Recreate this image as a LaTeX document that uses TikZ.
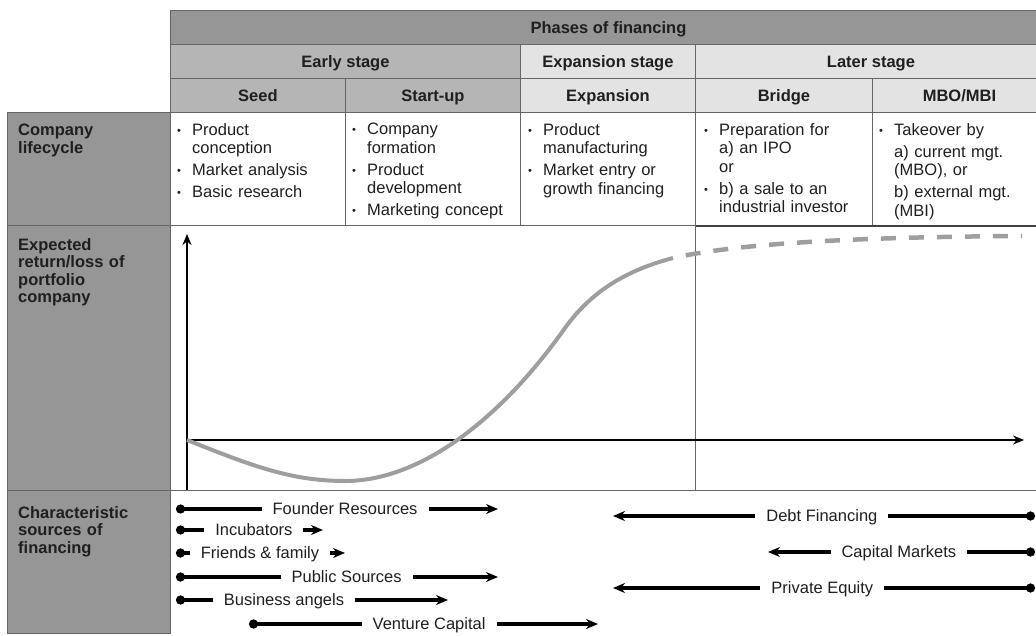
\documentclass[tikz,border=0pt]{standalone}
\usepackage{fontspec}
\setmainfont{Liberation Sans}
\usetikzlibrary{arrows.meta}

\definecolor{dunkel}{gray}{0.59}
\definecolor{mittel}{gray}{0.71}
\definecolor{hell}{gray}{0.89}
\definecolor{rahmen}{gray}{0.40}
\definecolor{kurve}{gray}{0.62}
\definecolor{schrift}{gray}{0.12}

\tikzset{
  zelle/.style={draw=rahmen, line width=0.9pt, anchor=north west, inner sep=0pt,
    minimum height=34pt, text height=11.8pt, text depth=0pt, text=schrift,
    font=\bfseries\fontsize{16.5}{19}\selectfont},
  gitter/.style={draw=rahmen, line width=0.9pt},
  liste/.style={anchor=north west, inner sep=0pt, align=left, text width=165pt,
    text=schrift, font=\fontsize{16.5}{18.5}\selectfont,
    execute at begin node={\setlength{\parskip}{3.5pt}}},
  links/.style={anchor=north west, inner sep=0pt, align=left, text width=148pt,
    text=schrift, font=\bfseries\fontsize{16.5}{17.5}\selectfont},
  achse/.style={line width=2.6pt, -{Stealth[length=11pt,width=9pt]}},
  quelle/.style={line width=3.4pt, {Circle[length=9pt]}-{Stealth[length=12pt,width=10pt]}},
  etikett/.style={fill=white, inner xsep=11pt, inner ysep=1pt, text height=11.8pt,
    text depth=0pt, text=schrift, font=\fontsize{16.5}{18}\selectfont},
}

% Aufzaehlungspunkt mit haengendem Einzug
\newcommand{\pkt}[1]{\hangindent=15pt\hangafter=1\noindent
  \makebox[15pt][l]{\raisebox{1pt}{\fontsize{11}{11}\selectfont\textbullet}}#1\par}
\newcommand{\ohne}[1]{\hangindent=15pt\hangafter=0\noindent #1\par}

\begin{document}
\begin{tikzpicture}[x=1pt,y=-1pt]
  \useasboundingbox (0,0) rectangle (1036,635);
  \clip (0,0) rectangle (1036,635);

  % Kopf
  \node[zelle, fill=dunkel, minimum width=876pt] (phasen) at (170,10) {Phases of financing};
  \node[zelle, fill=mittel, minimum width=350pt] (frueh) at (170,44) {Early stage};
  \node[zelle, fill=hell, minimum width=175pt] (expstufe) at (520,44) {Expansion stage};
  \node[zelle, fill=hell, minimum width=351pt] (spaet) at (695,44) {Later stage};
  \node[zelle, fill=mittel, minimum width=175pt] (seed) at (170,78) {Seed};
  \node[zelle, fill=mittel, minimum width=175pt] (startup) at (345,78) {Start-up};
  \node[zelle, fill=hell, minimum width=175pt] (expansion) at (520,78) {Expansion};
  \node[zelle, fill=hell, minimum width=177pt] (bridge) at (695,78) {Bridge};
  \node[zelle, fill=hell, minimum width=174pt] (mbo) at (872,78) {MBO/MBI};

  % linke Spalte und Raster
  \fill[dunkel] (7,112) rectangle (170,633);
  \draw[gitter] (7,112) rectangle (170,633);
  \draw[gitter] (170,225) -- (1046,225);
  \draw[gitter] (7,225) -- (170,225);
  \draw[gitter] (7,490) -- (1046,490);
  \draw[line width=1.4pt, black!75] (695,226) -- (1046,226);
  \foreach \x in {345,520,695,872} {
    \draw[gitter] (\x,112) -- (\x,225); % Spaltentrenner
  }
  \draw[gitter, line width=0.7pt] (695,225) -- (695,490);

  % Zeilentitel
  \node[links] (t-leben) at (18,124) {Company\newline lifecycle};
  \node[links] (t-rendite) at (18,238) {Expected\newline return/loss of\newline portfolio\newline company};
  \node[links] (t-quellen) at (18,506) {Characteristic\newline sources of\newline financing};

  % Lebenszyklus
  \node[liste] (l-seed) at (177,123) {\pkt{Product\newline conception}\pkt{Market analysis}\pkt{Basic research}};
  \node[liste] (l-startup) at (352,123) {\pkt{Company\newline formation}\pkt{Product\newline development}\pkt{Marketing concept}};
  \node[liste] (l-expansion) at (528,123) {\pkt{Product\newline manufacturing}\pkt{Market entry or\newline growth financing}};
  \node[liste] (l-bridge) at (704,123) {\pkt{Preparation for\newline a) an IPO\newline or}\pkt{b) a sale to an\newline industrial investor}};
  \node[liste, text width=150pt] (l-mbo) at (879,123) {\pkt{Takeover by}\ohne{a) current mgt.\newline (MBO), or}\ohne{b) external mgt.\newline (MBI)}};

  % Achsen
  \coordinate (ursprung) at (187,440);
  \coordinate (yfuss) at (187,490);
  \coordinate (yspitze) at (187,234);
  \coordinate (xspitze) at (1024,440);
  \draw[achse] (yfuss) -- (yspitze);
  \draw[achse] (ursprung) -- (xspitze);

  % Verlauf
  \coordinate (tief) at (345,481);
  \coordinate (wende) at (565,328);
  \coordinate (knick) at (673,258);
  \coordinate (ende) at (1022,236);
  \draw[draw=kurve, line width=4pt] (ursprung) .. controls (250,465) and (290,481) .. (tief)
    .. controls (420,481) and (500,420) .. (wende)
    .. controls (595,286) and (635,268) .. (knick);
  \draw[draw=kurve, line width=4.5pt, dash pattern=on 15pt off 13pt, dash phase=15pt]
    (knick) .. controls (740,243) and (860,237) .. (ende);

  % Finanzierungsquellen
  \foreach \n/\y/\a/\b/\p/\t in {
    gruender/509/176/498/0.525/Founder Resources,
    inkubator/530/176/323/0.53/Incubators,
    freunde/553/176/345/0.497/Friends \& family,
    oeffentlich/577/176/498/0.53/Public Sources,
    angels/600/176/448/0.397/Business angels,
    vc/624/249/598/0.516/Venture Capital,
    fremd/516/1035/613/0.505/Debt Financing,
    kapital/552/1035/768/0.51/Capital Markets,
    pe/588/1035/613/0.504/Private Equity} {
    \coordinate (\n-a) at (\a,\y);
    \coordinate (\n-b) at (\b,\y);
    \draw[quelle] (\n-a) -- node[etikett, pos=\p] (\n) {\t} (\n-b);
  }
\end{tikzpicture}
\end{document}
